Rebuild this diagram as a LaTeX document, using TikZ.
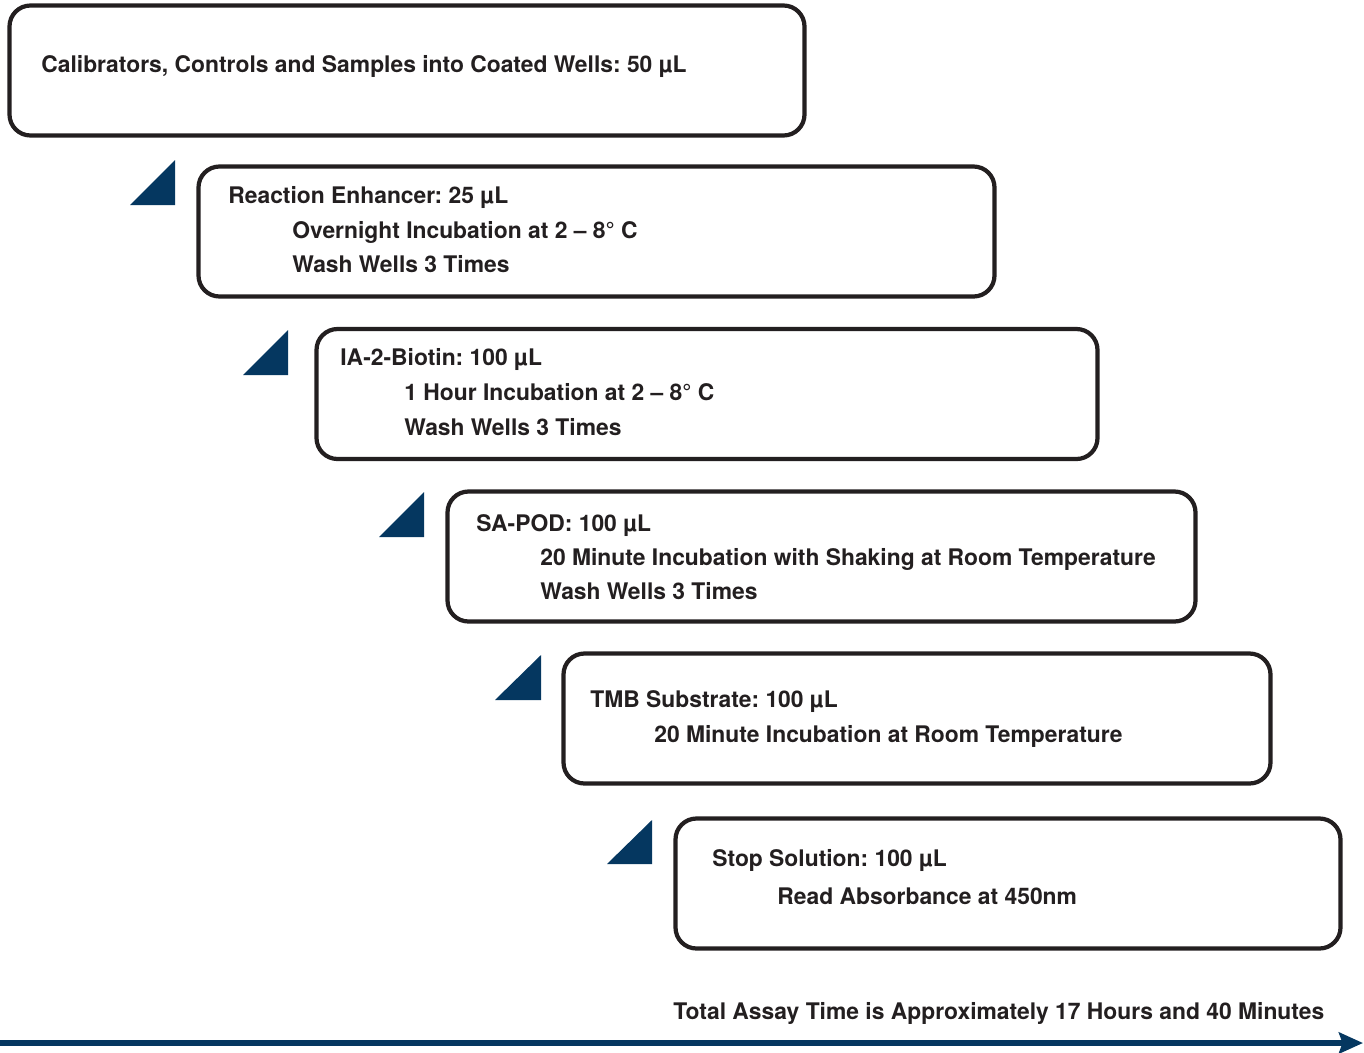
\documentclass[tikz,border=0pt]{standalone}
\usepackage{xcolor}
\usepackage{fontspec}
\setmainfont{TeX Gyre Heros}
\usepackage{tikz}
\usetikzlibrary{arrows.meta}
\definecolor{assaynavy}{HTML}{053760}
\definecolor{assayink}{HTML}{231F20}
\frenchspacing

\begin{document}
\begin{tikzpicture}[
      every node/.style={font=\fontsize{13.0}{16}\selectfont\bfseries, text=assayink},
      stepbox/.style={draw=assayink, line width=2.4pt, rounded corners=0.42cm,
                      minimum height=2.6cm, inner sep=0pt},
      txt/.style={anchor=base west, inner sep=0pt},
      tri/.style={fill=assaynavy},
      timearr/.style={-{Stealth[length=4.8mm, width=4.2mm, inset=0.7mm]},
                      line width=3.2pt, assaynavy}
    ]
    \useasboundingbox (0,0) rectangle (27.28,-21.04);

    \node[stepbox, minimum width=15.9cm] (s1) at (8.14, -1.41) {};
    \node[txt] (s1a) at (0.82, -1.44) {Calibrators, Controls and Samples into Coated Wells: 50 µL};

    \fill[tri] (2.60,-4.10) -- (3.50,-4.10) -- (3.50,-3.20) -- cycle;
    \node[stepbox, minimum width=15.92cm] (s2) at (11.93, -4.63) {};
    \node[txt] (s2a) at (4.56, -4.06) {Reaction Enhancer: 25 µL};
    \node[txt] (s2b) at (5.84, -4.76) {Overnight Incubation at 2 – 8° C};
    \node[txt] (s2c) at (5.84, -5.44) {Wash Wells 3 Times};

    \fill[tri] (4.86,-7.50) -- (5.76,-7.50) -- (5.76,-6.60) -- cycle;
    \node[stepbox, minimum width=15.62cm] (s3) at (14.14, -7.88) {};
    \node[txt] (s3a) at (6.80, -7.30) {IA-2-Biotin: 100 µL};
    \node[txt] (s3b) at (8.08, -8.00) {1 Hour Incubation at 2 – 8° C};
    \node[txt] (s3c) at (8.08, -8.70) {Wash Wells 3 Times};

    \fill[tri] (7.58,-10.74) -- (8.48,-10.74) -- (8.48,-9.84) -- cycle;
    \node[stepbox, minimum width=14.96cm] (s4) at (16.43, -11.13) {};
    \node[txt] (s4a) at (9.52, -10.62) {SA-POD: 100 µL};
    \node[txt] (s4b) at (10.80, -11.30) {20 Minute Incubation with Shaking at Room Temperature};
    \node[txt] (s4c) at (10.80, -11.98) {Wash Wells 3 Times};

    \fill[tri] (9.90,-14.00) -- (10.82,-14.00) -- (10.82,-13.10) -- cycle;
    \node[stepbox, minimum width=14.14cm] (s5) at (18.34, -14.37) {};
    \node[txt] (s5a) at (11.80, -14.14) {TMB Substrate: 100 µL};
    \node[txt] (s5b) at (13.08, -14.84) {20 Minute Incubation at Room Temperature};

    \fill[tri] (12.14,-17.28) -- (13.04,-17.28) -- (13.04,-16.40) -- cycle;
    \node[stepbox, minimum width=13.3cm] (s6) at (20.16, -17.67) {};
    \node[txt] (s6a) at (14.24, -17.32) {Stop Solution: 100 µL};
    \node[txt] (s6b) at (15.54, -18.08) {Read Absorbance at 450nm};

    \node[txt] (total) at (13.46, -20.38) {Total Assay Time is Approximately 17 Hours and 40 Minutes};

    \coordinate (t0) at (0, -20.86);
    \coordinate (t1) at (27.26, -20.86);
    \draw[timearr] (t0) -- (t1);
  \end{tikzpicture}
\end{document}
